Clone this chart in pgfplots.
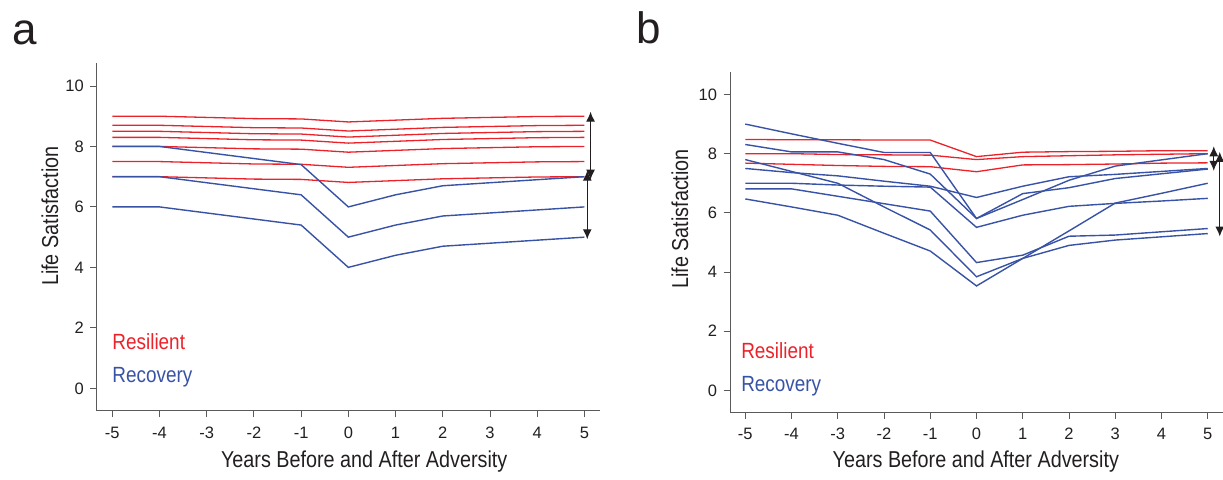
\documentclass[border=0pt]{standalone}
\usepackage{fontspec}
\setmainfont{Liberation Sans}
\newfontfamily\cond{Liberation Sans}[FakeStretch=0.86]
\usepackage{pgfplots}
\usepackage{pgfplotstable}
\pgfplotsset{compat=1.18}
\usetikzlibrary{arrows.meta}
\definecolor{resred}{RGB}{236,34,42}
\definecolor{recblue}{RGB}{56,82,166}
\definecolor{axgray}{RGB}{90,90,90}
\definecolor{txt}{RGB}{35,31,32}

\pgfplotstableread{
x r1 r2 r3 r4 r5 r6 r7 b1 b2 b3
-5 9.00 8.70 8.50 8.30 8.00 7.50 7.00 8.0 7.0 6.0
-4 9.00 8.70 8.50 8.30 8.00 7.50 7.00 8.0 7.0 6.0
-3 8.96 8.66 8.46 8.26 7.96 7.46 6.96 7.8 6.8 5.8
-2 8.92 8.62 8.42 8.22 7.92 7.42 6.92 7.6 6.6 5.6
-1 8.91 8.61 8.41 8.21 7.91 7.41 6.91 7.4 6.4 5.4
0 8.81 8.51 8.31 8.11 7.81 7.31 6.81 6.0 5.0 4.0
1 8.87 8.57 8.37 8.17 7.87 7.37 6.87 6.4 5.4 4.4
2 8.93 8.63 8.43 8.23 7.93 7.43 6.93 6.7 5.7 4.7
3 8.96 8.66 8.46 8.26 7.96 7.46 6.96 6.8 5.8 4.8
4 8.99 8.69 8.49 8.29 7.99 7.49 6.99 6.9 5.9 4.9
5 9.00 8.70 8.50 8.30 8.00 7.50 7.00 7.0 6.0 5.0
}\tableA

\pgfplotstableread{
x r1 r2 r3 b1 b2 b3 b4 b5 b6 b7
-5 8.48 8.00 7.68 9.00 8.31 7.80 7.50 7.00 6.81 6.47
-4 8.47 8.00 7.64 8.67 8.06 7.40 7.36 7.00 6.81 6.20
-3 8.47 7.97 7.60 8.35 8.06 7.00 7.25 6.94 6.56 5.92
-2 8.46 7.96 7.57 8.04 7.80 6.20 7.07 6.90 6.31 5.31
-1 8.46 7.95 7.56 8.04 7.31 5.42 6.90 6.87 6.06 4.71
0 7.90 7.80 7.39 5.81 5.81 3.84 6.52 5.51 4.32 3.53
1 8.05 7.90 7.62 6.45 6.65 4.46 6.90 5.92 4.57 4.46
2 8.07 7.93 7.63 7.10 6.85 4.90 7.22 6.22 5.21 5.39
3 8.08 7.96 7.65 7.58 7.16 5.08 7.30 6.32 5.25 6.33
4 8.10 7.98 7.68 7.79 7.32 5.19 7.40 6.40 5.36 6.66
5 8.10 8.00 7.69 8.00 7.48 5.30 7.50 6.49 5.47 7.00
}\tableB

\tikzset{
  dbl/.style={{Latex[length=10bp,width=9bp]}-{Latex[length=10bp,width=9bp]}, line width=1.2bp, txt},
}
\newcommand\labfont{\cond\fontsize{23bp}{26bp}\selectfont}
\pgfplotsset{
  lsstyle/.style={
    scale only axis,
    axis x line*=bottom, axis y line*=left,
    axis line style={axgray, line width=0.9bp},
    xmin=-5.33, xmax=5.33, ymin=-0.74, ymax=10.77,
    xtick={-5,...,5}, ytick={0,2,...,10},
    tick align=outside, major tick length=6.5bp,
    tick style={axgray, line width=0.9bp},
    /pgf/number format/assume math mode=true,
    tick label style={font=\fontsize{16.5bp}{18bp}\selectfont, text=txt},
    xticklabel style={yshift=-6bp},
    yticklabel style={xshift=-3bp},
    xlabel={Years Before and After Adversity},
    ylabel={Life Satisfaction},
    clip=false,
  },
  red line/.style={resred, line width=1.3bp, no marks},
  blue line/.style={recblue, line width=1.4bp, no marks},
}

\begin{document}
\begin{tikzpicture}
\useasboundingbox (0,0) rectangle (1223bp,480bp);

\node[anchor=base west, font=\fontsize{44bp}{48bp}\selectfont, text=txt, inner sep=0pt] at (12bp,435bp) {a};
\node[anchor=base west, font=\fontsize{44bp}{48bp}\selectfont, text=txt, inner sep=0pt] at (636bp,436.7bp) {b};

% Panel a
\begin{axis}[lsstyle,
  at={(96.7bp,69.3bp)}, anchor=south west,
  width=503.3bp, height=348bp,
  every axis x label/.style={at={(axis description cs:0.5315,-0.1618)}, anchor=base, font=\labfont, text=txt},
  every axis y label/.style={at={(axis description cs:-0.0928,0.559)}, anchor=center, rotate=90, font=\labfont, text=txt},
]
\pgfplotsinvokeforeach{r1,r2,r3,r4,r5,r6,r7}{
  \addplot[red line] table[x=x, y=#1] {\tableA};
}
\pgfplotsinvokeforeach{b1,b2,b3}{
  \addplot[blue line] table[x=x, y=#1] {\tableA};
}
\node[anchor=west, inner sep=0pt, text=resred, font=\cond\fontsize{22bp}{24bp}\selectfont] at (axis cs:-5,1.56) {Resilient};
\node[anchor=west, inner sep=0pt, text=recblue, font=\cond\fontsize{22bp}{24bp}\selectfont] at (axis cs:-5,0.37) {Recovery};
\draw[dbl] (axis cs:5.13,9.15) -- (axis cs:5.13,6.9);
\draw[dbl] (axis cs:5.06,7.2) -- (axis cs:5.06,4.93);
\end{axis}

% Panel b
\begin{axis}[lsstyle,
  at={(730bp,67.7bp)}, anchor=south west,
  width=493bp, height=340.6bp,
  every axis x label/.style={at={(axis description cs:0.4986,-0.1635)}, anchor=base, font=\labfont, text=txt},
  every axis y label/.style={at={(axis description cs:-0.1014,0.5675)}, anchor=center, rotate=90, font=\labfont, text=txt},
]
\pgfplotsinvokeforeach{r1,r2,r3}{
  \addplot[red line] table[x=x, y=#1] {\tableB};
}
\pgfplotsinvokeforeach{b1,b2,b3,b4,b5,b6,b7}{
  \addplot[blue line] table[x=x, y=#1] {\tableB};
}
\node[anchor=west, inner sep=0pt, text=resred, font=\cond\fontsize{22bp}{24bp}\selectfont] at (axis cs:-5.09,1.36) {Resilient};
\node[anchor=west, inner sep=0pt, text=recblue, font=\cond\fontsize{22bp}{24bp}\selectfont] at (axis cs:-5.09,0.15) {Recovery};
\draw[dbl] (axis cs:5.13,8.25) -- (axis cs:5.13,7.42);
\draw[dbl] (axis cs:5.26,8.06) -- (axis cs:5.26,5.2);
\end{axis}
\end{tikzpicture}
\end{document}
